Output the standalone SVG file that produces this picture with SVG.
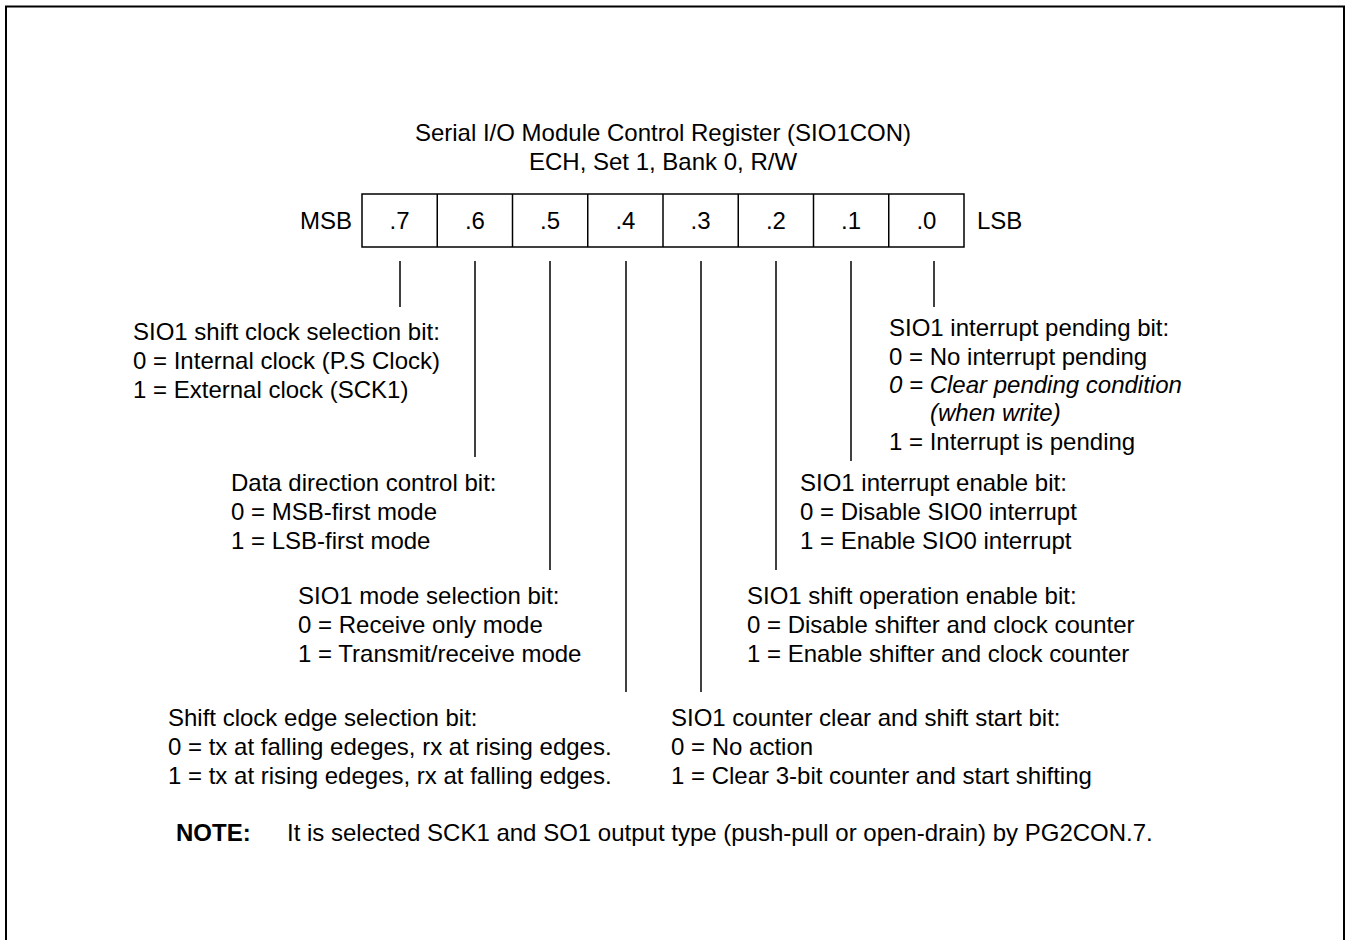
<svg xmlns="http://www.w3.org/2000/svg" width="1350" height="940" viewBox="0 0 1350 940">
<style>
text{font-family:"Liberation Sans",Arial,Helvetica,sans-serif;font-size:24px;fill:#000}
.c{text-anchor:middle}
.i{font-style:italic}
.b{font-weight:bold}
.ln{stroke:#000;stroke-width:1.5;fill:none}
.bx{stroke:#000;stroke-width:1.5;fill:#fff}
</style>
<rect width="1350" height="940" fill="#fff"/>
<path d="M6,940 V6.5 H1344 V940" fill="none" stroke="#000" stroke-width="2"/>
<g id="title">
<text class="c" x="663" y="141">Serial I/O Module Control Register (SIO1CON)</text>
<text class="c" x="663" y="170">ECH, Set 1, Bank 0, R/W</text>
</g>
<g id="register">
<text x="300" y="229">MSB</text>
<rect class="bx" x="362" y="194" width="602" height="53"/>
<g class="ln">
<line x1="437.25" y1="194" x2="437.25" y2="247"/>
<line x1="512.5" y1="194" x2="512.5" y2="247"/>
<line x1="587.75" y1="194" x2="587.75" y2="247"/>
<line x1="663" y1="194" x2="663" y2="247"/>
<line x1="738.25" y1="194" x2="738.25" y2="247"/>
<line x1="813.5" y1="194" x2="813.5" y2="247"/>
<line x1="888.75" y1="194" x2="888.75" y2="247"/>
</g>
<text class="c" x="399.6" y="229">.7</text>
<text class="c" x="474.9" y="229">.6</text>
<text class="c" x="550.1" y="229">.5</text>
<text class="c" x="625.4" y="229">.4</text>
<text class="c" x="700.6" y="229">.3</text>
<text class="c" x="775.9" y="229">.2</text>
<text class="c" x="851.1" y="229">.1</text>
<text class="c" x="926.4" y="229">.0</text>
<text x="977" y="229">LSB</text>
</g>
<g id="connectors" class="ln">
<line x1="400" y1="261" x2="400" y2="307"/>
<line x1="475" y1="261" x2="475" y2="457"/>
<line x1="550" y1="261" x2="550" y2="570"/>
<line x1="626" y1="261" x2="626" y2="692"/>
<line x1="701" y1="261" x2="701" y2="692"/>
<line x1="776" y1="261" x2="776" y2="570"/>
<line x1="851" y1="261" x2="851" y2="461"/>
<line x1="934" y1="261" x2="934" y2="307"/>
</g>
<g id="bit7">
<text x="133" y="340">SIO1 shift clock selection bit:</text>
<text x="133" y="369">0 = Internal clock (P.S Clock)</text>
<text x="133" y="398">1 = External clock (SCK1)</text>
</g>
<g id="bit6">
<text x="231" y="491">Data direction control bit:</text>
<text x="231" y="520">0 = MSB-first mode</text>
<text x="231" y="549">1 = LSB-first mode</text>
</g>
<g id="bit5">
<text x="298" y="604">SIO1 mode selection bit:</text>
<text x="298" y="633">0 = Receive only mode</text>
<text x="298" y="662">1 = Transmit/receive mode</text>
</g>
<g id="bit4">
<text x="168" y="726">Shift clock edge selection bit:</text>
<text x="168" y="755">0 = tx at falling edeges, rx at rising edges.</text>
<text x="168" y="784">1 = tx at rising edeges, rx at falling edges.</text>
</g>
<g id="bit3">
<text x="671" y="726">SIO1 counter clear and shift start bit:</text>
<text x="671" y="755">0 = No action</text>
<text x="671" y="784">1 = Clear 3-bit counter and start shifting</text>
</g>
<g id="bit2">
<text x="747" y="604">SIO1 shift operation enable bit:</text>
<text x="747" y="633">0 = Disable shifter and clock counter</text>
<text x="747" y="662">1 = Enable shifter and clock counter</text>
</g>
<g id="bit1">
<text x="800" y="491">SIO1 interrupt enable bit:</text>
<text x="800" y="520">0 = Disable SIO0 interrupt</text>
<text x="800" y="549">1 = Enable SIO0 interrupt</text>
</g>
<g id="bit0">
<text x="889" y="336">SIO1 interrupt pending bit:</text>
<text x="889" y="365">0 = No interrupt pending</text>
<text class="i" x="889" y="393">0 = Clear pending condition</text>
<text class="i" x="930" y="421">(when write)</text>
<text x="889" y="450">1 = Interrupt is pending</text>
</g>
<g id="note">
<text class="b" x="176" y="841">NOTE:</text>
<text x="287" y="841">It is selected SCK1 and SO1 output type (push-pull or open-drain) by PG2CON.7.</text>
</g>
</svg>
